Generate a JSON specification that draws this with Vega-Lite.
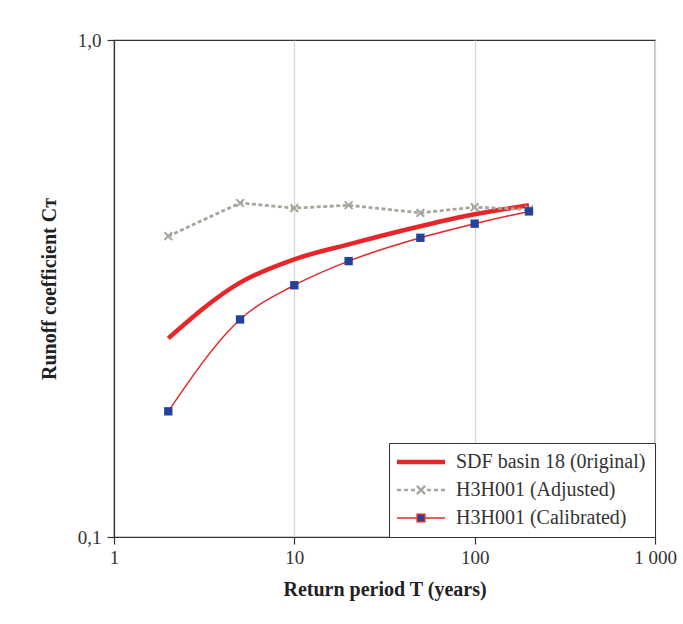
{
  "$schema": "https://vega.github.io/schema/vega-lite/v6.json",
  "width": 541,
  "height": 497,
  "autosize": "none",
  "padding": {"left": 114, "top": 40, "right": 28, "bottom": 87},
  "background": "white",
  "config": {
    "font": "Liberation Serif",
    "view": {"stroke": "#333333", "strokeWidth": 1.2},
    "axis": {
      "labelFont": "Liberation Serif",
      "labelFontSize": 19,
      "labelColor": "#333333",
      "labelFlush": false,
      "titleFont": "Liberation Serif",
      "titleFontSize": 20,
      "titleFontWeight": "bold",
      "titleColor": "#222222",
      "domainColor": "#333333",
      "tickColor": "#333333",
      "tickSize": 7,
      "domainWidth": 1.2,
      "tickWidth": 1.2
    }
  },
  "data": {
    "values": [
      {"T": 2, "C": 0.251, "series": "SDF basin 18 (0riginal)"},
      {"T": 5, "C": 0.325, "series": "SDF basin 18 (0riginal)"},
      {"T": 10, "C": 0.362, "series": "SDF basin 18 (0riginal)"},
      {"T": 20, "C": 0.388, "series": "SDF basin 18 (0riginal)"},
      {"T": 50, "C": 0.422, "series": "SDF basin 18 (0riginal)"},
      {"T": 100, "C": 0.446, "series": "SDF basin 18 (0riginal)"},
      {"T": 200, "C": 0.465, "series": "SDF basin 18 (0riginal)"},
      {"T": 2, "C": 0.403, "series": "H3H001 (Adjusted)"},
      {"T": 5, "C": 0.470, "series": "H3H001 (Adjusted)"},
      {"T": 10, "C": 0.459, "series": "H3H001 (Adjusted)"},
      {"T": 20, "C": 0.465, "series": "H3H001 (Adjusted)"},
      {"T": 50, "C": 0.449, "series": "H3H001 (Adjusted)"},
      {"T": 100, "C": 0.461, "series": "H3H001 (Adjusted)"},
      {"T": 200, "C": 0.456, "series": "H3H001 (Adjusted)"},
      {"T": 2, "C": 0.179, "series": "H3H001 (Calibrated)"},
      {"T": 5, "C": 0.274, "series": "H3H001 (Calibrated)"},
      {"T": 10, "C": 0.321, "series": "H3H001 (Calibrated)"},
      {"T": 20, "C": 0.359, "series": "H3H001 (Calibrated)"},
      {"T": 50, "C": 0.400, "series": "H3H001 (Calibrated)"},
      {"T": 100, "C": 0.427, "series": "H3H001 (Calibrated)"},
      {"T": 200, "C": 0.452, "series": "H3H001 (Calibrated)"}
    ]
  },
  "encoding": {
    "x": {
      "field": "T", "type": "quantitative",
      "scale": {"type": "log", "domain": [1, 1000], "nice": false},
      "axis": {
        "values": [1, 10, 100, 1000],
        "labelExpr": "datum.value == 1000 ? '1 000' : datum.label",
        "grid": true, "gridColor": "#d4d4d4", "gridWidth": 1.2,
        "labelPadding": 4,
        "title": "Return period T (years)",
        "titlePadding": 12
      }
    },
    "y": {
      "field": "C", "type": "quantitative",
      "scale": {"type": "log", "domain": [0.1, 1], "nice": false},
      "axis": {
        "values": [0.1, 1],
        "labelExpr": "replace(format(datum.value, '.1f'), '.', ',')",
        "grid": false,
        "labelPadding": 6,
        "title": "Runoff coefficient Cᴛ",
        "titlePadding": 18
      }
    }
  },
  "layer": [
    {
      "transform": [{"filter": "datum.series != 'H3H001 (Adjusted)'"}],
      "mark": {"type": "line", "interpolate": "monotone"},
      "encoding": {
        "detail": {"field": "series"},
        "color": {
          "field": "series", "type": "nominal",
          "scale": {
            "domain": ["SDF basin 18 (0riginal)", "H3H001 (Adjusted)", "H3H001 (Calibrated)"],
            "range": ["#e8262a", "#a8a69c", "#e8262a"]
          },
          "legend": {
            "title": null,
            "orient": "bottom-right",
            "offset": 0,
            "padding": 9,
            "strokeColor": "#333333",
            "fillColor": "white",
            "labelFont": "Liberation Serif",
            "labelFontSize": 20,
            "labelColor": "#333333",
            "labelOffset": 25,
            "symbolOffset": 13,
            "symbolSize": 2304,
            "rowPadding": 8,
            "labelLimit": 300,
            "encode": {
              "symbols": {
                "update": {
                  "shape": {"signal": "datum.value == 'SDF basin 18 (0riginal)' ? 'M-1,0H1' : datum.value == 'H3H001 (Adjusted)' ? 'M-1,0H-0.83M-0.71,0H-0.54M-0.42,0H-0.25M0.25,0H0.42M0.54,0H0.71M0.83,0H1M-0.17,-0.17L0.17,0.17M-0.17,0.17L0.17,-0.17' : 'M-1,0H-0.16M0.16,0H1M-0.16,-0.16H0.16V0.16H-0.16Z'"},
                  "stroke": {"signal": "datum.value == 'H3H001 (Adjusted)' ? '#a8a69c' : '#e8262a'"},
                  "fill": {"signal": "datum.value == 'H3H001 (Calibrated)' ? '#23429a' : 'transparent'"},
                  "strokeWidth": {"signal": "datum.value == 'SDF basin 18 (0riginal)' ? 4.5 : datum.value == 'H3H001 (Adjusted)' ? 2.5 : 1.5"},
                  "opacity": {"value": 1}
                }
              }
            }
          }
        },
        "strokeWidth": {
          "field": "series", "type": "nominal",
          "scale": {
            "domain": ["SDF basin 18 (0riginal)", "H3H001 (Calibrated)"],
            "range": [4.5, 1.5]
          },
          "legend": null
        }
      }
    },
    {
      "transform": [{"filter": "datum.series == 'H3H001 (Adjusted)'"}],
      "mark": {"type": "line", "color": "#a8a69c", "strokeWidth": 2.8, "strokeDash": [4, 2.5]},
      "encoding": {}
    },
    {
      "transform": [{"filter": "datum.series == 'H3H001 (Adjusted)'"}],
      "mark": {"type": "point", "shape": "M-1,-1L1,1M-1,1L1,-1", "filled": false, "color": "#a8a69c", "strokeWidth": 2, "size": 60, "opacity": 1},
      "encoding": {}
    },
    {
      "transform": [{"filter": "datum.series == 'H3H001 (Calibrated)'"}],
      "mark": {"type": "square", "color": "#23429a", "size": 70, "opacity": 1},
      "encoding": {}
    }
  ]
}
